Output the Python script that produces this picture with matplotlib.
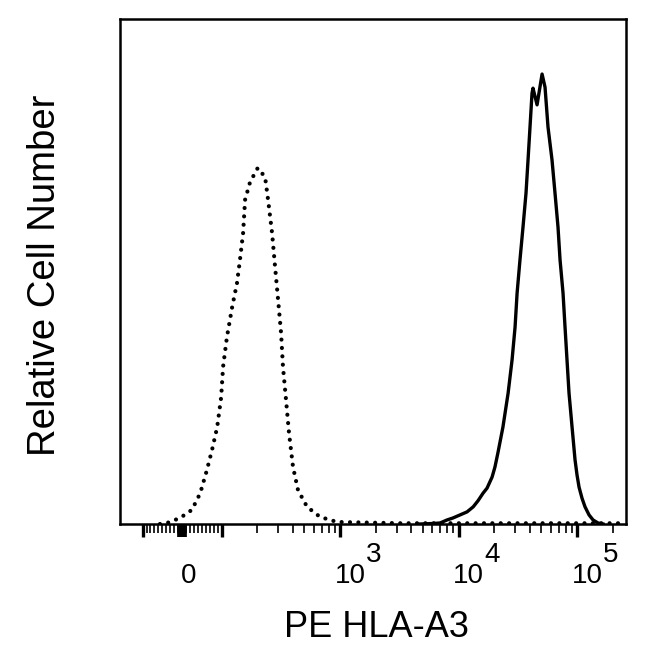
import numpy as np
import matplotlib
matplotlib.use('Agg')
import matplotlib.pyplot as plt

plt.rcParams['font.family'] = ['Liberation Sans', 'DejaVu Sans']

# isotype control (dotted), intensity vs relative count
iso_x = [-56, -38, -5, 25, 46, 63, 76, 89, 99, 103, 111, 123, 135, 143, 152, 158, 174,
         202, 233, 247, 267, 283, 300, 318, 330, 350, 371, 401, 442, 527, 678, 943,
         3210, 22400, 230700]
iso_y = [0, 0.2, 1.2, 2.8, 6.1, 10.7, 14.7, 19.2, 25.1, 31.1, 37.0, 43.0, 47.7, 52.3, 57.6,
         64.2, 67.7, 70.5, 68.7, 64.2, 57.6, 50.9, 44.4, 37.8, 31.1, 24.6, 18.0, 11.3, 6.7,
         3.4, 1.4, 0.4, 0.15, 0.15, 0.15]

# PE HLA-A3 stained (solid)
hla_x = [4730, 6090, 6980, 8000, 8990, 10300, 11800, 13300, 14600, 16100, 17400, 19200,
         20300, 21500, 23700, 26200, 28300, 30000, 31200, 33000, 35000, 37100, 38600,
         40100, 41700, 42500, 46000, 50700, 53700, 56900, 61500, 65200, 69100, 71900,
         76200, 79200, 82300, 85600, 90800, 96200, 100000, 104000, 110200, 116800, 126300,
         136500, 150400, 165700]
hla_y = [0, 0.1, 0.2, 0.8, 1.2, 1.8, 2.4, 3.4, 4.6, 6.1, 7.1, 9.3, 11.3, 14.1, 19.2, 25.9,
         32.5, 39.0, 45.7, 52.3, 58.8, 65.5, 72.1, 78.6, 85.3, 86.3, 83.0, 89.1, 86.5, 78.6,
         72.1, 65.5, 58.8, 52.3, 45.7, 39.0, 32.5, 25.9, 19.2, 12.7, 9.7, 7.3, 5.1, 3.4, 1.8,
         0.8, 0.2, 0]

major_ticks = [-100, 0, 100, 1e3, 1e4, 1e5]
minor_ticks = ([-v for v in range(10, 100, 10)] + list(range(10, 100, 10))
               + [k * 10 ** e for e in (2, 3, 4) for k in range(2, 10)] + [2e5])
decade_labels = [(1e3, '3'), (1e4, '4'), (1e5, '5')]

K = 1 / 3.0


def fwd(v):
    v = np.asarray(v, float)
    a = np.abs(v)
    return np.where(a <= 100, v / 300.0,
                    np.sign(v) * (K + np.log10(np.maximum(a, 100) / 100.0)))


def inv(u):
    u = np.asarray(u, float)
    a = np.abs(u)
    return np.where(a <= K, u * 300.0,
                    np.sign(u) * 100.0 * 10 ** (np.maximum(a, K) - K))


fig = plt.figure(figsize=(6.5, 6.49), dpi=100)
ax = fig.add_axes([120 / 650, 125 / 649, 506 / 650, 505 / 649])
ax.set_xscale('function', functions=(fwd, inv))

ax.plot(iso_x, iso_y, color='black', lw=3.0, linestyle=(0, (0.01, 2.0)),
        dash_capstyle='round')
ax.plot(hla_x, hla_y, color='black', lw=2.4, solid_joinstyle='round')

ax.set_xlim(-155, 259000)
ax.set_ylim(0, 100)

for s in ax.spines.values():
    s.set_linewidth(1.8)

ax.set_yticks([])
ax.set_xticks(major_ticks)
ax.set_xticks(minor_ticks, minor=True)
ax.set_xticklabels([])
ax.xaxis.set_minor_formatter(plt.NullFormatter())
ax.tick_params(axis='x', which='major', direction='out', length=9.5, width=2.4)
ax.tick_params(axis='x', which='minor', direction='out', length=6.5, width=1.2)
ax.xaxis.get_major_ticks()[1].tick1line.set_markeredgewidth(7)

fs = 20
ax.annotate('0', xy=(0, 0), xycoords=('data', 'axes fraction'), xytext=(7, -59),
            textcoords='offset pixels', ha='center', va='baseline', fontsize=fs)
for v, e in decade_labels:
    ax.annotate('10', xy=(v, 0), xycoords=('data', 'axes fraction'), xytext=(10, -59),
                textcoords='offset pixels', ha='center', va='baseline', fontsize=fs)
    ax.annotate(e, xy=(v, 0), xycoords=('data', 'axes fraction'), xytext=(34, -38),
                textcoords='offset pixels', ha='center', va='baseline', fontsize=fs)

fig.text(376 / 650, 12 / 649, 'PE HLA-A3', ha='center', va='baseline', fontsize=26)
fig.text(45 / 650, 1 - 275 / 649, 'Relative Cell Number', rotation=90,
         ha='center', va='center', fontsize=27.5)

fig.savefig('out.png', dpi=100, facecolor='white')
